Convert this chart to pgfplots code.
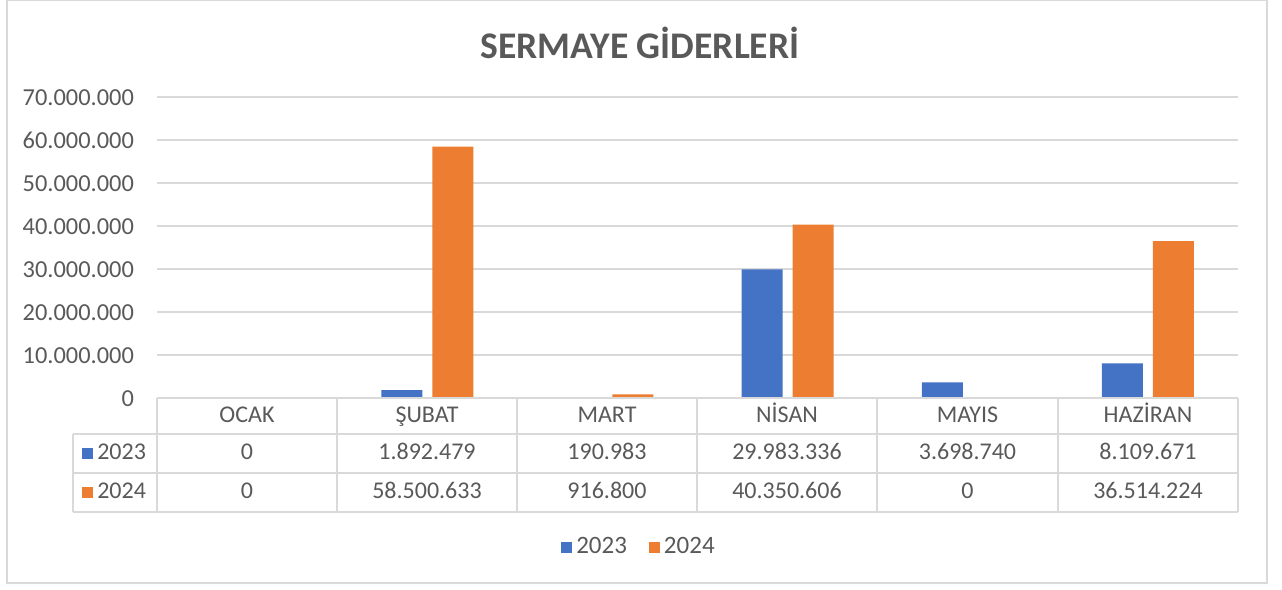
\documentclass[border=0pt]{standalone}
\usepackage{pgfplots}
\pgfplotsset{compat=1.18}
\usepackage{fontspec}
\setmainfont{Carlito}
\definecolor{txt}{HTML}{595959}
\definecolor{grd}{HTML}{D9D9D9}
\definecolor{c23}{HTML}{4472C4}
\definecolor{c24}{HTML}{ED7D31}
\newcommand{\tf}{\fontsize{12}{14}\selectfont}
\begin{document}
\begin{tikzpicture}[x=0.5pt,y=0.5pt]
\path (0,0) rectangle (1282,589);
\draw[grd, line width=0.75pt] (7,588.5) rectangle (1267,6);
\node[txt, font=\fontsize{18.8}{22}\selectfont\bfseries] at (640,546) {SERMAYE GİDERLERİ};
\begin{axis}[at={(78.5pt,95.5pt)}, anchor=south west, scale only axis,
    width=540.5pt, height=150.5pt,
    xmin=0, xmax=6, ymin=0, ymax=70000000,
    ybar, bar width=20.5pt,
    axis line style={draw=none}, xtick=\empty,
    ytick={0,10000000,20000000,30000000,40000000,50000000,60000000,70000000},
    scaled y ticks=false, ymajorgrids, grid style={grd, line width=0.75pt},
    major tick length=0pt,
    yticklabel style={txt, font=\fontsize{12.2}{14}\selectfont, xshift=-8pt,
        /pgf/number format/fixed, /pgf/number format/1000 sep={.},
        /pgf/number format/assume math mode=true},
    legend style={at={(0.4468,-0.495)}, anchor=center, draw=none, fill=none,
        font=\fontsize{12.5}{14}\selectfont, text=txt,
        /tikz/every even column/.append style={column sep=9pt}},
    legend columns=2,
    legend image code/.code={\fill[#1] (0pt,-2.75pt) rectangle (5.5pt,2.75pt);}]
\addplot[fill=c23, draw=none, bar shift=-12.75pt] coordinates
    {(0.5,0) (1.5,1892479) (2.5,190983) (3.5,29983336) (4.5,3698740) (5.5,8109671)};
\addlegendentry{2023}
\addplot[fill=c24, draw=none, bar shift=12.75pt] coordinates
    {(0.5,0) (1.5,58500633) (2.5,916800) (3.5,40350606) (4.5,0) (5.5,36514224)};
\addlegendentry{2024}
\end{axis}
% data table
\begin{scope}[grd, line width=1pt]
\draw (157,191) -- (1238,191);
\foreach \y in {155,116,77} \draw (73,\y) -- (1238,\y);
\draw (73,155) -- (73,77);
\foreach \x in {157,337,517,697,877,1058,1238} \draw (\x,191) -- (\x,77);
\end{scope}
\begin{scope}[every node/.style={txt, font=\tf, text height=8pt, text depth=2pt}]
\foreach \x/\m in {247/OCAK,427/ŞUBAT,607/MART,787/NİSAN,967.5/MAYIS,1148/HAZİRAN}
  \node at (\x,173) {\m};
\foreach \x/\v in {247/0,427/1.892.479,607/190.983,787/29.983.336,967.5/3.698.740,1148/8.109.671}
  \node at (\x,136) {\v};
\foreach \x/\v in {247/0,427/58.500.633,607/916.800,787/40.350.606,967.5/0,1148/36.514.224}
  \node at (\x,97) {\v};
\node[anchor=east] at (153,136) {2023};
\node[anchor=east] at (153,97) {2024};
\end{scope}
\fill[c23] (82,141) rectangle (93,130);
\fill[c24] (82,102) rectangle (93,91);
\end{tikzpicture}
\end{document}
